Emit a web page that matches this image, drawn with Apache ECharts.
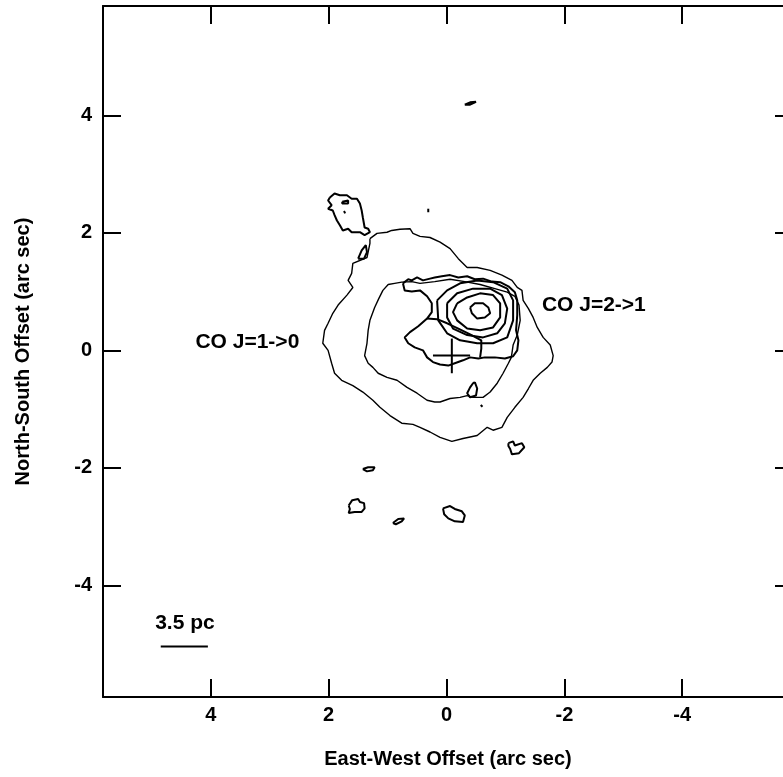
<!DOCTYPE html>
<html>
<head>
<meta charset="utf-8">
<script src="https://cdn.jsdelivr.net/npm/echarts@6/dist/echarts.min.js"></script>
<style>html,body{margin:0;padding:0;background:#fff;overflow:hidden;}#c{width:800px;height:777px;}</style>
</head>
<body>
<div id="c"></div>
<script>
// Tick values / labels
const xTicks = [-4, -2, 0, 2, 4];
const yTicks = [-4, -2, 0, 2, 4];

// CO J=1->0 contours (arc sec offsets: [East-West, North-South])
const co10Outer = [[1.30,1.90],[1.18,1.99],[1.01,2.01],[0.93,2.04],[0.79,2.06],[0.62,2.07],[0.57,1.99],[0.45,1.94],[0.28,1.92],[0.11,1.84],[-0.06,1.73],[-0.20,1.56],[-0.35,1.41],[-0.52,1.41],[-0.74,1.36],[-0.94,1.28],[-1.11,1.19],[-1.20,1.07],[-1.28,1.02],[-1.30,0.85],[-1.39,0.71],[-1.47,0.56],[-1.54,0.39],[-1.64,0.22],[-1.76,0.09],[-1.81,-0.09],[-1.79,-0.20],[-1.71,-0.29],[-1.59,-0.39],[-1.47,-0.51],[-1.39,-0.65],[-1.30,-0.80],[-1.16,-0.97],[-1.03,-1.14],[-0.94,-1.31],[-0.79,-1.36],[-0.69,-1.31],[-0.52,-1.45],[-0.28,-1.50],[-0.09,-1.55],[0.11,-1.48],[0.28,-1.39],[0.45,-1.31],[0.57,-1.26],[0.76,-1.24],[0.96,-1.11],[1.13,-0.97],[1.25,-0.85],[1.42,-0.71],[1.59,-0.60],[1.78,-0.51],[1.90,-0.39],[1.95,-0.22],[2.01,0.00],[2.10,0.12],[2.07,0.34],[2.01,0.46],[1.93,0.63],[1.84,0.77],[1.69,0.94],[1.59,1.07],[1.67,1.19],[1.61,1.31],[1.59,1.48],[1.35,1.58],[1.30,1.82],[1.30,1.90]];
const co10Second = [[1.08,1.02],[0.99,1.12],[0.88,1.14],[0.76,1.16],[0.59,1.17],[0.45,1.14],[0.20,1.17],[-0.06,1.21],[-0.31,1.17],[-0.57,1.12],[-0.82,1.05],[-1.03,0.99],[-1.16,0.92],[-1.23,0.77],[-1.25,0.51],[-1.20,0.26],[-1.13,0.09],[-1.10,-0.12],[-1.05,-0.22],[-0.96,-0.39],[-0.86,-0.56],[-0.74,-0.71],[-0.62,-0.80],[-0.45,-0.80],[-0.35,-0.77],[-0.23,-0.80],[-0.06,-0.82],[0.11,-0.88],[0.20,-0.88],[0.33,-0.85],[0.50,-0.73],[0.67,-0.63],[0.84,-0.51],[1.01,-0.46],[1.16,-0.39],[1.25,-0.29],[1.33,-0.22],[1.39,-0.09],[1.35,0.12],[1.33,0.34],[1.30,0.51],[1.22,0.73],[1.15,0.88],[1.08,1.02]];
const blobNW = [[1.98,2.60],[1.90,2.67],[1.81,2.64],[1.69,2.64],[1.61,2.58],[1.52,2.58],[1.47,2.50],[1.44,2.38],[1.42,2.26],[1.39,2.09],[1.33,2.07],[1.30,2.01],[1.39,1.96],[1.47,2.01],[1.61,2.01],[1.67,2.07],[1.76,2.04],[1.81,2.13],[1.86,2.21],[1.90,2.30],[1.93,2.38],[2.01,2.41],[1.95,2.47],[2.01,2.55],[1.98,2.60]];
const blobNWHole = [[1.77,2.53],[1.67,2.55],[1.67,2.50],[1.77,2.50],[1.77,2.53]];
const blobNWDot = [[1.74,2.37],[1.72,2.33]];
const blobTear = [[1.50,1.56],[1.44,1.70],[1.37,1.79],[1.35,1.67],[1.40,1.56],[1.50,1.56]];
const blobDotN = [[0.31,2.41],[0.31,2.35]];
const blobTop = [[-0.31,4.18],[-0.40,4.22],[-0.50,4.23],[-0.48,4.20],[-0.40,4.18],[-0.31,4.18]];
const blobInner = [[-0.48,-0.54],[-0.52,-0.65],[-0.50,-0.77],[-0.40,-0.80],[-0.35,-0.73],[-0.40,-0.63],[-0.45,-0.56],[-0.48,-0.54]];
const blobDotS = [[-0.58,-0.93],[-0.61,-0.96]];
const blobSE = [[-1.05,-1.58],[-1.13,-1.55],[-1.16,-1.62],[-1.28,-1.58],[-1.32,-1.65],[-1.23,-1.75],[-1.11,-1.77],[-1.08,-1.68],[-1.05,-1.63],[-1.05,-1.58]];
const blobS1 = [[1.42,-2.02],[1.33,-1.99],[1.22,-1.99],[1.25,-2.04],[1.35,-2.06],[1.42,-2.02]];
const blobS2 = [[1.66,-2.64],[1.60,-2.55],[1.50,-2.53],[1.47,-2.58],[1.40,-2.60],[1.39,-2.69],[1.44,-2.75],[1.56,-2.75],[1.66,-2.77],[1.64,-2.70],[1.66,-2.64]];
const blobS3 = [[0.91,-2.94],[0.82,-2.87],[0.72,-2.86],[0.76,-2.91],[0.86,-2.96],[0.91,-2.94]];
const blobS4 = [[0.06,-2.69],[-0.06,-2.65],[-0.14,-2.70],[-0.26,-2.74],[-0.31,-2.81],[-0.28,-2.92],[-0.14,-2.91],[-0.03,-2.86],[0.04,-2.79],[0.06,-2.69]];

// CO J=2->1 contours
const co21Outer = [[0.74,1.14],[0.65,1.21],[0.59,1.19],[0.50,1.24],[0.40,1.19],[0.28,1.22],[0.20,1.24],[0.08,1.26],[-0.06,1.28],[-0.20,1.24],[-0.35,1.26],[-0.48,1.21],[-0.62,1.22],[-0.77,1.17],[-0.91,1.16],[-1.05,1.09],[-1.16,0.99],[-1.20,0.85],[-1.20,0.60],[-1.18,0.34],[-1.22,0.17],[-1.20,0.00],[-1.13,-0.10],[-0.99,-0.14],[-0.82,-0.12],[-0.65,-0.12],[-0.54,-0.14],[-0.40,-0.12],[-0.28,-0.17],[-0.14,-0.22],[-0.03,-0.26],[0.11,-0.24],[0.23,-0.20],[0.33,-0.12],[0.40,0.00],[0.54,0.05],[0.65,0.12],[0.71,0.22],[0.62,0.31],[0.48,0.41],[0.33,0.54],[0.25,0.65],[0.25,0.80],[0.33,0.92],[0.45,1.02],[0.59,1.00],[0.71,1.02],[0.74,1.14]];
const co21Divide = [[0.33,0.54],[0.16,0.53],[-0.01,0.46],[-0.20,0.37],[-0.40,0.27],[-0.59,0.17],[-0.59,0.03],[-0.57,-0.12]];
const co21Ring4 = [[0.16,0.85],[-0.01,1.02],[-0.23,1.14],[-0.52,1.19],[-0.79,1.16],[-1.03,1.05],[-1.13,0.85],[-1.13,0.51],[-1.03,0.22],[-0.79,0.12],[-0.52,0.12],[-0.23,0.17],[-0.01,0.29],[0.14,0.51],[0.16,0.85]];
const co21Ring3 = [[-0.01,0.80],[-0.18,0.97],[-0.45,1.05],[-0.74,1.05],[-0.94,0.94],[-1.03,0.71],[-0.99,0.46],[-0.86,0.29],[-0.62,0.22],[-0.35,0.26],[-0.11,0.37],[-0.01,0.56],[-0.01,0.80]];
const co21Ring2 = [[-0.18,0.80],[-0.35,0.90],[-0.57,0.97],[-0.79,0.94],[-0.91,0.80],[-0.91,0.56],[-0.79,0.39],[-0.57,0.34],[-0.35,0.37],[-0.18,0.51],[-0.11,0.65],[-0.18,0.80]];
const co21Ring1 = [[-0.40,0.73],[-0.48,0.80],[-0.62,0.80],[-0.71,0.73],[-0.74,0.63],[-0.65,0.56],[-0.52,0.54],[-0.43,0.63],[-0.40,0.73]];

// Cross marker (centre position) and scale bar
const crossH = [[0.23,-0.09],[-0.40,-0.09]];
const crossV = [[-0.09,0.20],[-0.09,-0.39]];
const scaleBar = [[4.85,-5.04],[4.05,-5.04]];

// Annotations
const annotations = [
  {name: 'CO J=1->0', value: [3.38, 0.14]},
  {name: 'CO J=2->1', value: [-2.50, 0.77]},
  {name: '3.5 pc', value: [4.44, -4.65]}
];

const FONT = 'Liberation Sans, Arial, Helvetica, sans-serif';
function lineSeries(data, width) {
  return {type: 'line', data: data, showSymbol: false, symbol: 'none', smooth: false,
    lineStyle: {color: '#000', width: width}, silent: true, animation: false, z: 3};
}
const thin = [co10Outer, co10Second];
const thick = [blobNW, blobNWHole, blobNWDot, blobTear, blobDotN, blobTop, blobInner, blobDotS, blobSE, blobS1, blobS2, blobS3, blobS4,
  co21Outer, co21Divide, co21Ring4, co21Ring3, co21Ring2, co21Ring1, crossH, crossV, scaleBar];

const series = [];
thin.forEach(d => series.push(lineSeries(d, 1.4)));
thick.forEach(d => series.push(lineSeries(d, 2)));
series.push({
  type: 'scatter', data: annotations, symbolSize: 0, silent: true, animation: false,
  itemStyle: {color: '#000'},
  label: {show: true, position: 'inside', formatter: p => p.name, color: '#000',
    textBorderWidth: 0, textBorderColor: 'transparent', opacity: 1,
    fontFamily: FONT, fontWeight: 'bold', fontSize: 21}
});

const axisCommon = {
  type: 'value', splitLine: {show: false},
  axisLine: {show: true, onZero: false, lineStyle: {color: '#000', width: 2}},
  axisTick: {show: true, inside: true, length: 18, customValues: xTicks, lineStyle: {color: '#000', width: 2}},
};
const chart = echarts.init(document.getElementById('c'), null, {renderer: 'canvas'});
chart.setOption({
  animation: false,
  backgroundColor: '#fff',
  grid: {left: 103, top: 6, width: 690, height: 691, containLabel: false},
  xAxis: [
    Object.assign({}, axisCommon, {
      position: 'bottom', min: -5.88, max: 5.83, inverse: true,
      axisLabel: {show: true, customValues: xTicks, margin: 8, color: '#000', fontFamily: FONT, fontWeight: 'bold', fontSize: 20},
      name: 'East-West Offset (arc sec)', nameLocation: 'middle', nameGap: 52,
      nameTextStyle: {color: '#000', fontFamily: FONT, fontWeight: 'bold', fontSize: 20}
    }),
    Object.assign({}, axisCommon, {position: 'top', min: -5.88, max: 5.83, inverse: true, axisLabel: {show: false}})
  ],
  yAxis: [
    Object.assign({}, axisCommon, {
      position: 'left', min: -5.9, max: 5.86,
      axisTick: Object.assign({}, axisCommon.axisTick, {customValues: yTicks}),
      axisLabel: {show: true, customValues: yTicks, margin: 11, color: '#000', fontFamily: FONT, fontWeight: 'bold', fontSize: 20},
      name: 'North-South Offset (arc sec)', nameLocation: 'middle', nameGap: 70, nameRotate: 90,
      nameTextStyle: {color: '#000', fontFamily: FONT, fontWeight: 'bold', fontSize: 20}
    }),
    Object.assign({}, axisCommon, {position: 'right', min: -5.9, max: 5.86,
      axisTick: Object.assign({}, axisCommon.axisTick, {customValues: yTicks}), axisLabel: {show: false}})
  ],
  series: series
});
</script>
</body>
</html>
